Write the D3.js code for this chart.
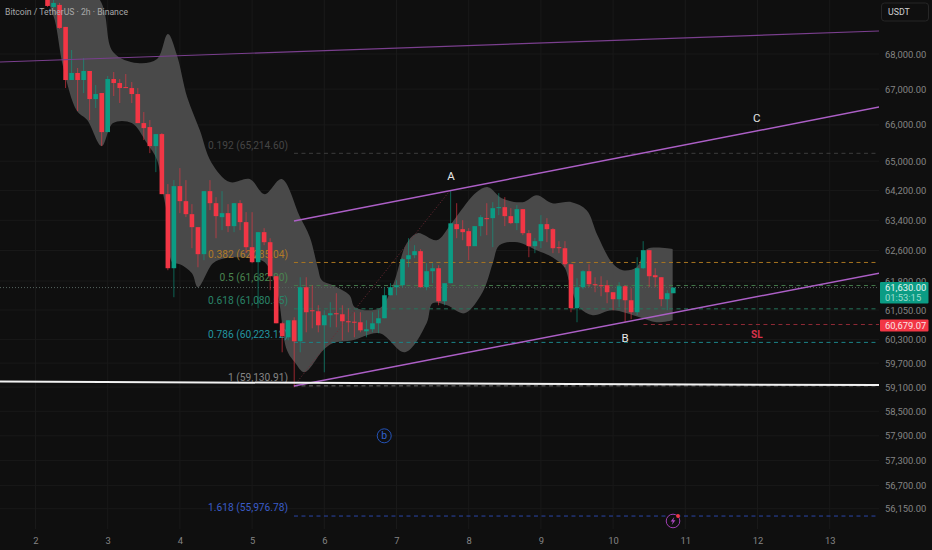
<!DOCTYPE html>
<html lang="en">
<head>
    <meta charset="UTF-8">
    <title>Bitcoin / TetherUS 2h</title>
    <script src="https://d3js.org/d3.v7.min.js"></script>
</head>

<style>
    html, body { margin: 0; padding: 0; background: #0f0f0f; overflow: hidden; }
    svg { display: block; }
    text { font-family: Roboto, sans-serif; }
    .axis text { fill: #858585; font-size: 9.4px; }
    .axis .domain, .axis line { display: none; }
    .grid line { stroke: #191919; stroke-width: 1px; }
</style>

<body>
<svg width="932" height="550"></svg>

<script>
    // candles, 2h bars. bar 0 sits on the "3" tick
    var firstBar = -10;
    var opens = [69800, 69360, 69420, 68780, 67259, 67458, 67259, 67515, 66722, 66891,
        65800, 67287, 67174, 67060, 67032, 66863, 66050, 65939, 65413, 65745,
        64103, 62134, 64320, 63914, 63565, 63218, 62503, 64184, 63860, 63485,
        63592, 63245, 63860, 63352, 62687, 62292, 63085, 62819, 61925, 60710,
        60353, 60787, 60252, 61639, 61044, 61018, 60659, 60916, 60967, 60941,
        60762, 60750, 60736, 60506, 60557, 60710, 60839, 61431, 61639, 61691,
        62370, 62476, 62582, 61639, 62056, 62134, 61276, 61743, 63298, 63165,
        63112, 62714, 63245, 63458, 63458, 63726, 63753, 63512, 63325, 63699,
        63058, 62714, 62846, 63298, 63165, 62687, 62660, 62239, 61096, 61639,
        62056, 61717, 61691, 61691, 61509, 61328, 61665, 61302, 60993, 62134,
        62608, 61951, 61899, 61328, 61483];
    var highs = [69900, 69566, 69478, 68780, 68115, 67600, 67885, 67515, 67117, 66891,
        67372, 67487, 67287, 67430, 67202, 67032, 66358, 66134, 65745, 65773,
        64375, 64483, 64810, 64483, 63833, 63218, 64184, 64483, 64022, 64184,
        63833, 63860, 63941, 63619, 63619, 63085, 63191, 62925, 61925, 60736,
        60787, 60864, 61899, 61899, 61691, 61173, 61044, 61250, 61483, 61173,
        61096, 60993, 60993, 60787, 60993, 61044, 61639, 61743, 61821, 62397,
        62925, 62740, 62634, 62265, 62265, 62213, 61743, 64184, 63860, 63405,
        63191, 63245, 63539, 63860, 63887, 64130, 64022, 63726, 63806, 63699,
        63138, 62925, 63539, 63458, 63191, 62846, 62846, 62239, 61873, 62082,
        62239, 61899, 61925, 61821, 61509, 61769, 61691, 61613, 62423, 62846,
        62608, 62134, 61899, 61561, 61630];
    var lows = [69360, 69330, 68720, 67032, 67259, 66386, 66891, 66134, 66470, 65413,
        65800, 66807, 66610, 67032, 66610, 66050, 65579, 65220, 64700, 64103,
        62082, 61380, 63592, 63485, 62660, 62160, 62344, 63672, 62925, 63138,
        63085, 63085, 63138, 62529, 62265, 61096, 62740, 61561, 60710, 59973,
        60277, 59095, 59973, 60480, 60582, 60480, 59469, 60608, 60608, 60277,
        60480, 60353, 60480, 60353, 60480, 60455, 60839, 61431, 61431, 61639,
        62160, 62397, 61639, 61561, 61743, 61173, 61173, 61743, 62925, 62872,
        62344, 62714, 62978, 63005, 62687, 63539, 63245, 63298, 63138, 63005,
        62423, 62529, 62660, 62819, 62529, 62529, 62160, 60993, 60736, 61587,
        61639, 61509, 61405, 61225, 61044, 61122, 60736, 60813, 60916, 62108,
        61639, 61639, 61147, 61044, 61483];
    var closes = [69390, 69478, 68750, 67259, 67458, 67259, 67515, 66722, 66863, 65800,
        67287, 67174, 67032, 67032, 66863, 66050, 65911, 65413, 65745, 64103,
        62134, 64320, 63914, 63565, 63218, 62503, 64184, 63860, 63512, 63592,
        63245, 63860, 63352, 62687, 62292, 63085, 62819, 61925, 60710, 60379,
        60787, 60252, 61639, 60993, 61018, 60659, 60916, 60967, 60941, 60762,
        60736, 60725, 60531, 60557, 60710, 60839, 61431, 61639, 61691, 62370,
        62476, 62582, 61639, 62056, 62134, 61276, 61743, 63320, 63165, 63085,
        62714, 63245, 63485, 63432, 63726, 63753, 63512, 63325, 63699, 63058,
        62714, 62846, 63298, 63165, 62660, 62660, 62239, 61096, 61639, 62056,
        61717, 61691, 61665, 61509, 61328, 61665, 61302, 60993, 62134, 62608,
        61925, 61899, 61328, 61483, 61630];

    // gray band outline
    var upperBars = [-10, -1.3, 0.9, 4.9, 8.2, 10, 11.5, 13.2, 15.3, 17.2, 20.3, 23.6, 26.1, 28.9, 31.9, 33.6, 34.9, 35.6, 37.4, 40.2, 41.1, 45.2, 47.4, 49.7, 51.5, 54.7, 56.9, 58.5, 61.3, 63.2, 65.5, 69, 71.3, 73.9, 77.1, 79.6, 81.4, 83.9, 85.6, 87.9, 89.6, 93.9];
    var upperVals = [70800, 69566, 68060, 67742, 67857, 68577, 67971, 66778, 65856, 64973, 64430, 64510, 64103, 64510, 63512, 62952, 62160, 61821, 61691, 61431, 61122, 61096, 61691, 62793, 63058, 62872, 63271, 63619, 64157, 64292, 63995, 63887, 64076, 63860, 63887, 63672, 63005, 62265, 62082, 62160, 62634, 62634];
    var lowerBars = [-10, -8.8, -7.4, -5.1, -3.4, -1, 0.9, 4, 6.5, 8.2, 9.2, 9.9, 10.7, 12, 14, 15, 17.5, 19.5, 23.6, 26.1, 28.1, 29.8, 31.1, 32.7, 35.8, 37.4, 40.7, 45.2, 49.4, 53, 54, 56.4, 59.3, 62.3, 64, 65.1, 68.1, 71.3, 73.9, 75.9, 76.8, 78.4, 80.6, 83.9, 88.4, 91.2, 93.9];
    var lowerVals = [69566, 68982, 67628, 66386, 66134, 65413, 66050, 66050, 65496, 65028, 64130, 63539, 62292, 62239, 62005, 61639, 62265, 62397, 62397, 62292, 61561, 60023, 59721, 59469, 60023, 60200, 60277, 60455, 59973, 60710, 61225, 61173, 60967, 61509, 62265, 62740, 62819, 62608, 62423, 62160, 61743, 61122, 60916, 61044, 60864, 60736, 60787];

    // fib levels
    var fibNames = ["0.192", "0.382", "0.5", "0.618", "0.786", "1", "1.618"];
    var fibPrices = [65214.60, 62285.04, 61682.80, 61080.55, 60223.12, 59130.91, 55976.78];
    var fibColors = ["#3d3d3d", "#a87420", "#44794a", "#25755c", "#1b8388", "#6c6c6c", "#2a45a8"];
    var fibTextColors = ["#454545", "#b07a28", "#4a8550", "#2a8468", "#2395a0", "#858585", "#3a5cc8"];
    var fibStartDay = 5.58;

    var yTicks = [68000, 67000, 66000, 65000, 64200, 63400, 62600, 61800, 61050, 60300, 59700, 59100, 58500, 57900, 57300, 56700, 56150];
    var dayTicks = [2, 3, 4, 5, 6, 7, 8, 9, 10, 11, 12, 13];

    // trend lines as [day, price] ends
    var channelUpper = [[5.58, 63381], [13.69, 66499]];
    var channelLower = [[5.58, 59130], [13.69, 62008]];
    var longLine = [[1.508, 67771], [13.69, 68662]];
    var supportLine = [[1.508, 59237], [13.69, 59150]];
    var fibTrend = [[5.58, 59130.91], [7.755, 64234.68]];

    var waveNames = ["A", "B", "C"];
    var waveDays = [7.755, 10.165, 11.99];
    var wavePrices = [64590, 60330, 66190];

    var stopPrice = 60679.07;
    var stopStartDay = 10.42;
    var lastPrice = 61630;

    var svg = d3.select("svg"),
        plotRight = 879,
        plotBottom = 529;

    var x = d3.scaleLinear().domain([2, 13]).range([35.5, 829.7]);
    var y = d3.scaleLog().domain([68000, 56150]).range([54, 508.7]);

    function barDay(b) { return 3 + b / 12; }

    svg.append("rect").attr("width", 932).attr("height", 550).attr("fill", "#0f0f0f");
    svg.append("defs").append("clipPath").attr("id", "plot")
        .append("rect").attr("width", plotRight).attr("height", plotBottom);

    var plot = svg.append("g").attr("clip-path", "url(#plot)");

    // grid
    var grid = plot.append("g").attr("class", "grid");
    grid.selectAll(".h").data(yTicks).enter().append("line").attr("class", "h")
        .attr("x1", 0).attr("x2", plotRight)
        .attr("y1", function(d) { return y(d); })
        .attr("y2", function(d) { return y(d); });
    grid.selectAll(".v").data(dayTicks).enter().append("line").attr("class", "v")
        .attr("y1", 0).attr("y2", plotBottom)
        .attr("x1", function(d) { return x(d); })
        .attr("x2", function(d) { return x(d); });

    // band, both edges smoothed on their own so the right end stays square
    var line = d3.line()
        .x(function(d) { return x(d[0]); })
        .y(function(d) { return y(d[1]); });
    var bandEdge = d3.line()
        .x(function(d) { return x(d[0]); })
        .y(function(d) { return y(d[1]); })
        .curve(d3.curveCatmullRom.alpha(0.5));
    var upperPts = upperBars.map(function(b, i) { return [barDay(b), upperVals[i]]; });
    var lowerPts = lowerBars.map(function(b, i) { return [barDay(b), lowerVals[i]]; }).reverse();
    plot.append("path")
        .attr("d", bandEdge(upperPts) + "L" + bandEdge(lowerPts).slice(1) + "Z")
        .attr("fill", "#494949");

    // last price dotted line
    plot.append("line")
        .attr("x1", 0).attr("x2", plotRight)
        .attr("y1", y(lastPrice)).attr("y2", y(lastPrice))
        .attr("stroke", "#55635e").attr("stroke-width", 1).attr("stroke-dasharray", "1 2");

    // fib lines + labels, labels go under the candles
    fibNames.forEach(function(name, i) {
        plot.append("line")
            .attr("x1", x(fibStartDay)).attr("x2", plotRight)
            .attr("y1", y(fibPrices[i])).attr("y2", y(fibPrices[i]))
            .attr("stroke", fibColors[i]).attr("stroke-width", 1).attr("stroke-dasharray", "4 3.5");
        plot.append("text")
            .attr("x", 288).attr("y", y(fibPrices[i]) - 4.8)
            .attr("text-anchor", "end")
            .attr("font-size", "10.2px")
            .attr("fill", fibTextColors[i])
            .text(name + " (" + d3.format(",.2f")(fibPrices[i]) + ")");
    });

    plot.append("path")
        .attr("d", line(fibTrend))
        .attr("fill", "none").attr("stroke", "#6e2a35").attr("stroke-width", 1).attr("stroke-dasharray", "1 2");

    // SL
    plot.append("line")
        .attr("x1", x(stopStartDay)).attr("x2", plotRight)
        .attr("y1", y(stopPrice)).attr("y2", y(stopPrice))
        .attr("stroke", "#8e2a36").attr("stroke-width", 1).attr("stroke-dasharray", "4 3.5");

    // candles
    var bars = d3.range(opens.length);
    var candle = plot.append("g").selectAll("g").data(bars).enter().append("g");
    function barColor(i) { return closes[i] >= opens[i] ? "#0b9c84" : "#f23645"; }
    function barX(i) { return x(barDay(firstBar + i)); }

    candle.append("line")
        .attr("x1", barX).attr("x2", barX)
        .attr("y1", function(i) { return y(highs[i]); })
        .attr("y2", function(i) { return y(lows[i]); })
        .attr("stroke", barColor).attr("stroke-opacity", 0.6).attr("stroke-width", 1);
    candle.append("rect")
        .attr("x", function(i) { return barX(i) - 2.3; })
        .attr("width", 4.6)
        .attr("y", function(i) { return y(Math.max(opens[i], closes[i])); })
        .attr("height", function(i) { return Math.max(1, Math.abs(y(opens[i]) - y(closes[i]))); })
        .attr("fill", barColor);

    // trend lines
    [channelUpper, channelLower].forEach(function(pts) {
        plot.append("path").attr("d", line(pts))
            .attr("fill", "none").attr("stroke", "#ac5fc6").attr("stroke-width", 1.5);
    });
    plot.append("path").attr("d", line(longLine))
        .attr("fill", "none").attr("stroke", "#7a3f8e").attr("stroke-width", 1.2);
    plot.append("path").attr("d", line(supportLine))
        .attr("fill", "none").attr("stroke", "#f2f2f2").attr("stroke-width", 2);

    // wave labels
    waveNames.forEach(function(name, i) {
        plot.append("text")
            .attr("x", x(waveDays[i])).attr("y", y(wavePrices[i]))
            .attr("text-anchor", "middle").attr("dominant-baseline", "central")
            .attr("font-size", "11.5px").attr("fill", "#e6e6e6")
            .text(name);
    });
    plot.append("text")
        .attr("x", x(11.99)).attr("y", y(stopPrice) + 10.5)
        .attr("text-anchor", "middle").attr("dominant-baseline", "central")
        .attr("font-size", "10px").attr("font-weight", 700).attr("fill", "#d8324a")
        .text("SL");

    // b marker
    var bMark = plot.append("g").attr("transform", "translate(" + x(6.83) + "," + y(57900) + ")");
    bMark.append("circle").attr("r", 7).attr("fill", "none").attr("stroke", "#2453b8").attr("stroke-width", 1);
    bMark.append("text").attr("text-anchor", "middle").attr("dominant-baseline", "central")
        .attr("font-size", "10.5px").attr("fill", "#2f62d0").text("b");

    // bolt marker
    var bolt = plot.append("g").attr("transform", "translate(" + x(10.83) + "," + y(55860) + ")");
    bolt.append("circle").attr("r", 6.8).attr("fill", "#0f0f0f").attr("stroke", "#a13fb5").attr("stroke-width", 1);
    bolt.append("path").attr("d", "M1.3,-4 L-2.4,0.6 L-0.2,0.6 L-1.3,4 L2.4,-0.8 L0.2,-0.8 Z").attr("fill", "#b04ac4");
    bolt.append("circle").attr("cx", 5).attr("cy", -5).attr("r", 1.9).attr("fill", "#f23645");

    // axes
    var yAxis = d3.axisRight(y).tickValues(yTicks).tickSize(0).tickPadding(5)
        .tickFormat(d3.format(",.2f"));
    svg.append("g").attr("class", "axis").attr("transform", "translate(880,0)").call(yAxis);

    var xAxis = d3.axisBottom(x).tickValues(dayTicks).tickSize(0).tickPadding(0)
        .tickFormat(d3.format("d"));
    svg.append("g").attr("class", "axis").attr("transform", "translate(0,537)").call(xAxis);

    // title
    svg.append("text").attr("x", 5).attr("y", 15)
        .attr("font-size", "9.2px").attr("fill", "#a8a8a8")
        .attr("textLength", 123).attr("lengthAdjust", "spacingAndGlyphs")
        .text("Bitcoin / TetherUS · 2h · Binance");

    // currency box
    svg.append("rect").attr("x", 881.5).attr("y", 3).attr("width", 47).attr("height", 18).attr("rx", 3)
        .attr("fill", "#0f0f0f").attr("stroke", "#262626");
    svg.append("text").attr("x", 888).attr("y", 15.3)
        .attr("font-size", "8.8px").attr("fill", "#d0d0d0").text("USDT");

    // price tags
    svg.append("rect").attr("x", 880).attr("y", y(lastPrice) - 5.5).attr("width", 48.5).attr("height", 21.5).attr("rx", 1)
        .attr("fill", "#0b9c84");
    svg.append("text").attr("x", 885).attr("y", y(lastPrice) + 3.3)
        .attr("font-size", "9.4px").attr("fill", "#e4f5f1").text(d3.format(",.2f")(lastPrice));
    svg.append("text").attr("x", 885).attr("y", y(lastPrice) + 13)
        .attr("font-size", "9.4px").attr("fill", "#9fdccf").text("01:53:15");
    svg.append("rect").attr("x", 880).attr("y", y(stopPrice) - 5).attr("width", 48.5).attr("height", 12).attr("rx", 1)
        .attr("fill", "#f23645");
    svg.append("text").attr("x", 885).attr("y", y(stopPrice) + 4.4)
        .attr("font-size", "9.4px").attr("fill", "#fbe3e6").text(d3.format(",.2f")(stopPrice));
</script>
</body>
</html>
